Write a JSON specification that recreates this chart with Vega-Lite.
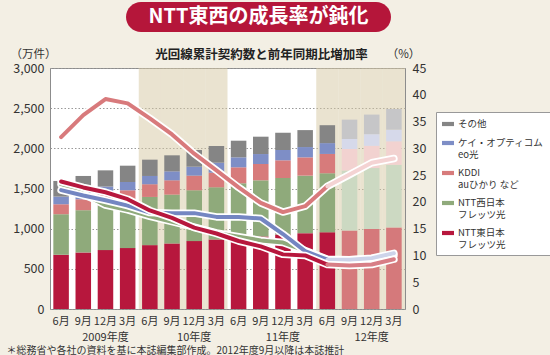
{
  "$schema": "https://vega.github.io/schema/vega-lite/v6.json",
  "background": "#F3EFE4",
  "padding": {"left": 6, "right": 2, "top": 2, "bottom": 1},
  "config": {
    "font": "Noto Sans CJK JP",
    "view": {"stroke": null},
    "axis": {"labelFont": "Noto Sans CJK JP", "titleFont": "Noto Sans CJK JP", "labelColor": "#333", "titleColor": "#333"},
    "legend": {"labelFont": "Noto Sans CJK JP"}
  },
  "datasets": {
    "bars": [
      {"時期": "2009-06", "年度": "2009年度", "系列": "NTT東日本 フレッツ光", "順": 1, "件数": 675, "推計": false},
      {"時期": "2009-06", "年度": "2009年度", "系列": "NTT西日本 フレッツ光", "順": 2, "件数": 505, "推計": false},
      {"時期": "2009-06", "年度": "2009年度", "系列": "KDDI auひかり など", "順": 3, "件数": 124, "推計": false},
      {"時期": "2009-06", "年度": "2009年度", "系列": "ケイ・オプティコム eo光", "順": 4, "件数": 95, "推計": false},
      {"時期": "2009-06", "年度": "2009年度", "系列": "その他", "順": 5, "件数": 195, "推計": false},
      {"時期": "2009-09", "年度": "2009年度", "系列": "NTT東日本 フレッツ光", "順": 1, "件数": 704, "推計": false},
      {"時期": "2009-09", "年度": "2009年度", "系列": "NTT西日本 フレッツ光", "順": 2, "件数": 526, "推計": false},
      {"時期": "2009-09", "年度": "2009年度", "系列": "KDDI auひかり など", "順": 3, "件数": 136, "推計": false},
      {"時期": "2009-09", "年度": "2009年度", "系列": "ケイ・オプティコム eo光", "順": 4, "件数": 95, "推計": false},
      {"時期": "2009-09", "年度": "2009年度", "系列": "その他", "順": 5, "件数": 195, "推計": false},
      {"時期": "2009-12", "年度": "2009年度", "系列": "NTT東日本 フレッツ光", "順": 1, "件数": 733, "推計": false},
      {"時期": "2009-12", "年度": "2009年度", "系列": "NTT西日本 フレッツ光", "順": 2, "件数": 550, "推計": false},
      {"時期": "2009-12", "年度": "2009年度", "系列": "KDDI auひかり など", "順": 3, "件数": 145, "推計": false},
      {"時期": "2009-12", "年度": "2009年度", "系列": "ケイ・オプティコム eo光", "順": 4, "件数": 96, "推計": false},
      {"時期": "2009-12", "年度": "2009年度", "系列": "その他", "順": 5, "件数": 202, "推計": false},
      {"時期": "2010-03", "年度": "2009年度", "系列": "NTT東日本 フレッツ光", "順": 1, "件数": 758, "推計": false},
      {"時期": "2010-03", "年度": "2009年度", "系列": "NTT西日本 フレッツ光", "順": 2, "件数": 579, "推計": false},
      {"時期": "2010-03", "年度": "2009年度", "系列": "KDDI auひかり など", "順": 3, "件数": 141, "推計": false},
      {"時期": "2010-03", "年度": "2009年度", "系列": "ケイ・オプティコム eo光", "順": 4, "件数": 103, "推計": false},
      {"時期": "2010-03", "年度": "2009年度", "系列": "その他", "順": 5, "件数": 203, "推計": false},
      {"時期": "2010-06", "年度": "10年度", "系列": "NTT東日本 フレッツ光", "順": 1, "件数": 795, "推計": false},
      {"時期": "2010-06", "年度": "10年度", "系列": "NTT西日本 フレッツ光", "順": 2, "件数": 600, "推計": false},
      {"時期": "2010-06", "年度": "10年度", "系列": "KDDI auひかり など", "順": 3, "件数": 158, "推計": false},
      {"時期": "2010-06", "年度": "10年度", "系列": "ケイ・オプティコム eo光", "順": 4, "件数": 103, "推計": false},
      {"時期": "2010-06", "年度": "10年度", "系列": "その他", "順": 5, "件数": 203, "推計": false},
      {"時期": "2010-09", "年度": "10年度", "系列": "NTT東日本 フレッツ光", "順": 1, "件数": 816, "推計": false},
      {"時期": "2010-09", "年度": "10年度", "系列": "NTT西日本 フレッツ光", "順": 2, "件数": 608, "推計": false},
      {"時期": "2010-09", "年度": "10年度", "系列": "KDDI auひかり など", "順": 3, "件数": 178, "推計": false},
      {"時期": "2010-09", "年度": "10年度", "系列": "ケイ・オプティコム eo光", "順": 4, "件数": 112, "推計": false},
      {"時期": "2010-09", "年度": "10年度", "系列": "その他", "順": 5, "件数": 199, "推計": false},
      {"時期": "2010-12", "年度": "10年度", "系列": "NTT東日本 フレッツ光", "順": 1, "件数": 845, "推計": false},
      {"時期": "2010-12", "年度": "10年度", "系列": "NTT西日本 フレッツ光", "順": 2, "件数": 633, "推計": false},
      {"時期": "2010-12", "年度": "10年度", "系列": "KDDI auひかり など", "順": 3, "件数": 182, "推計": false},
      {"時期": "2010-12", "年度": "10年度", "系列": "ケイ・オプティコム eo光", "順": 4, "件数": 112, "推計": false},
      {"時期": "2010-12", "年度": "10年度", "系列": "その他", "順": 5, "件数": 207, "推計": false},
      {"時期": "2011-03", "年度": "10年度", "系列": "NTT東日本 フレッツ光", "順": 1, "件数": 865, "推計": false},
      {"時期": "2011-03", "年度": "10年度", "系列": "NTT西日本 フレッツ光", "順": 2, "件数": 650, "推計": false},
      {"時期": "2011-03", "年度": "10年度", "系列": "KDDI auひかり など", "順": 3, "件数": 182, "推計": false},
      {"時期": "2011-03", "年度": "10年度", "系列": "ケイ・オプティコム eo光", "順": 4, "件数": 125, "推計": false},
      {"時期": "2011-03", "年度": "10年度", "系列": "その他", "順": 5, "件数": 207, "推計": false},
      {"時期": "2011-06", "年度": "11年度", "系列": "NTT東日本 フレッツ光", "順": 1, "件数": 882, "推計": false},
      {"時期": "2011-06", "年度": "11年度", "系列": "NTT西日本 フレッツ光", "順": 2, "件数": 683, "推計": false},
      {"時期": "2011-06", "年度": "11年度", "系列": "KDDI auひかり など", "順": 3, "件数": 199, "推計": false},
      {"時期": "2011-06", "年度": "11年度", "系列": "ケイ・オプティコム eo光", "順": 4, "件数": 124, "推計": false},
      {"時期": "2011-06", "年度": "11年度", "系列": "その他", "順": 5, "件数": 207, "推計": false},
      {"時期": "2011-09", "年度": "11年度", "系列": "NTT東日本 フレッツ光", "順": 1, "件数": 903, "推計": false},
      {"時期": "2011-09", "年度": "11年度", "系列": "NTT西日本 フレッツ光", "順": 2, "件数": 699, "推計": false},
      {"時期": "2011-09", "年度": "11年度", "系列": "KDDI auひかり など", "順": 3, "件数": 203, "推計": false},
      {"時期": "2011-09", "年度": "11年度", "系列": "ケイ・オプティコム eo光", "順": 4, "件数": 124, "推計": false},
      {"時期": "2011-09", "年度": "11年度", "系列": "その他", "順": 5, "件数": 216, "推計": false},
      {"時期": "2011-12", "年度": "11年度", "系列": "NTT東日本 フレッツ光", "順": 1, "件数": 927, "推計": false},
      {"時期": "2011-12", "年度": "11年度", "系列": "NTT西日本 フレッツ光", "順": 2, "件数": 704, "推計": false},
      {"時期": "2011-12", "年度": "11年度", "系列": "KDDI auひかり など", "順": 3, "件数": 220, "推計": false},
      {"時期": "2011-12", "年度": "11年度", "系列": "ケイ・オプティコム eo光", "順": 4, "件数": 128, "推計": false},
      {"時期": "2011-12", "年度": "11年度", "系列": "その他", "順": 5, "件数": 215, "推計": false},
      {"時期": "2012-03", "年度": "11年度", "系列": "NTT東日本 フレッツ光", "順": 1, "件数": 944, "推計": false},
      {"時期": "2012-03", "年度": "11年度", "系列": "NTT西日本 フレッツ光", "順": 2, "件数": 716, "推計": false},
      {"時期": "2012-03", "年度": "11年度", "系列": "KDDI auひかり など", "順": 3, "件数": 228, "推計": false},
      {"時期": "2012-03", "年度": "11年度", "系列": "ケイ・オプティコム eo光", "順": 4, "件数": 128, "推計": false},
      {"時期": "2012-03", "年度": "11年度", "系列": "その他", "順": 5, "件数": 211, "推計": false},
      {"時期": "2012-06", "年度": "12年度", "系列": "NTT東日本 フレッツ光", "順": 1, "件数": 955, "推計": false},
      {"時期": "2012-06", "年度": "12年度", "系列": "NTT西日本 フレッツ光", "順": 2, "件数": 735, "推計": false},
      {"時期": "2012-06", "年度": "12年度", "系列": "KDDI auひかり など", "順": 3, "件数": 240, "推計": false},
      {"時期": "2012-06", "年度": "12年度", "系列": "ケイ・オプティコム eo光", "順": 4, "件数": 135, "推計": false},
      {"時期": "2012-06", "年度": "12年度", "系列": "その他", "順": 5, "件数": 223, "推計": false},
      {"時期": "2012-09", "年度": "12年度", "系列": "NTT東日本 フレッツ光", "順": 1, "件数": 976, "推計": true},
      {"時期": "2012-09", "年度": "12年度", "系列": "NTT西日本 フレッツ光", "順": 2, "件数": 748, "推計": true},
      {"時期": "2012-09", "年度": "12年度", "系列": "KDDI auひかり など", "順": 3, "件数": 268, "推計": true},
      {"時期": "2012-09", "年度": "12年度", "系列": "ケイ・オプティコム eo光", "順": 4, "件数": 124, "推計": true},
      {"時期": "2012-09", "年度": "12年度", "系列": "その他", "順": 5, "件数": 241, "推計": true},
      {"時期": "2012-12", "年度": "12年度", "系列": "NTT東日本 フレッツ光", "順": 1, "件数": 996, "推計": true},
      {"時期": "2012-12", "年度": "12年度", "系列": "NTT西日本 フレッツ光", "順": 2, "件数": 758, "推計": true},
      {"時期": "2012-12", "年度": "12年度", "系列": "KDDI auひかり など", "順": 3, "件数": 277, "推計": true},
      {"時期": "2012-12", "年度": "12年度", "系列": "ケイ・オプティコム eo光", "順": 4, "件数": 145, "推計": true},
      {"時期": "2012-12", "年度": "12年度", "系列": "その他", "順": 5, "件数": 244, "推計": true},
      {"時期": "2013-03", "年度": "12年度", "系列": "NTT東日本 フレッツ光", "順": 1, "件数": 1016, "推計": true},
      {"時期": "2013-03", "年度": "12年度", "系列": "NTT西日本 フレッツ光", "順": 2, "件数": 779, "推計": true},
      {"時期": "2013-03", "年度": "12年度", "系列": "KDDI auひかり など", "順": 3, "件数": 292, "推計": true},
      {"時期": "2013-03", "年度": "12年度", "系列": "ケイ・オプティコム eo光", "順": 4, "件数": 145, "推計": true},
      {"時期": "2013-03", "年度": "12年度", "系列": "その他", "順": 5, "件数": 258, "推計": true}
    ],
    "rates": [
      {"時期": "2009-06", "系列": "KDDI", "増加率": 32.1}, {"時期": "2009-09", "系列": "KDDI", "増加率": 36.2},
      {"時期": "2009-12", "系列": "KDDI", "増加率": 39.2}, {"時期": "2010-03", "系列": "KDDI", "増加率": 38.4},
      {"時期": "2010-06", "系列": "KDDI", "増加率": 35.6}, {"時期": "2010-09", "系列": "KDDI", "増加率": 32.6},
      {"時期": "2010-12", "系列": "KDDI", "増加率": 29.0}, {"時期": "2011-03", "系列": "KDDI", "増加率": 25.9},
      {"時期": "2011-06", "系列": "KDDI", "増加率": 22.7}, {"時期": "2011-09", "系列": "KDDI", "増加率": 19.8},
      {"時期": "2011-12", "系列": "KDDI", "増加率": 18.1}, {"時期": "2012-03", "系列": "KDDI", "増加率": 19.2},
      {"時期": "2012-06", "系列": "KDDI", "増加率": 22.9}, {"時期": "2012-09", "系列": "KDDI", "増加率": 25.1},
      {"時期": "2012-12", "系列": "KDDI", "増加率": 27.3}, {"時期": "2013-03", "系列": "KDDI", "増加率": 28.1},
      {"時期": "2009-06", "系列": "ケイ・オプティコム", "増加率": 22.2}, {"時期": "2009-09", "系列": "ケイ・オプティコム", "増加率": 21.2},
      {"時期": "2009-12", "系列": "ケイ・オプティコム", "増加率": 20.3}, {"時期": "2010-03", "系列": "ケイ・オプティコム", "増加率": 19.3},
      {"時期": "2010-06", "系列": "ケイ・オプティコム", "増加率": 18.0}, {"時期": "2010-09", "系列": "ケイ・オプティコム", "増加率": 17.9},
      {"時期": "2010-12", "系列": "ケイ・オプティコム", "増加率": 17.9}, {"時期": "2011-03", "系列": "ケイ・オプティコム", "増加率": 17.2},
      {"時期": "2011-06", "系列": "ケイ・オプティコム", "増加率": 17.2}, {"時期": "2011-09", "系列": "ケイ・オプティコム", "増加率": 16.9},
      {"時期": "2011-12", "系列": "ケイ・オプティコム", "増加率": 14.0}, {"時期": "2012-03", "系列": "ケイ・オプティコム", "増加率": 10.8},
      {"時期": "2012-06", "系列": "ケイ・オプティコム", "増加率": 9.2}, {"時期": "2012-09", "系列": "ケイ・オプティコム", "増加率": 9.2},
      {"時期": "2012-12", "系列": "ケイ・オプティコム", "増加率": 9.5}, {"時期": "2013-03", "系列": "ケイ・オプティコム", "増加率": 10.4},
      {"時期": "2009-06", "系列": "NTT西日本", "増加率": 23.3}, {"時期": "2009-09", "系列": "NTT西日本", "増加率": 21.5},
      {"時期": "2009-12", "系列": "NTT西日本", "増加率": 19.4}, {"時期": "2010-03", "系列": "NTT西日本", "増加率": 18.5},
      {"時期": "2010-06", "系列": "NTT西日本", "増加率": 17.3}, {"時期": "2010-09", "系列": "NTT西日本", "増加率": 16.3},
      {"時期": "2010-12", "系列": "NTT西日本", "増加率": 15.3}, {"時期": "2011-03", "系列": "NTT西日本", "増加率": 14.2},
      {"時期": "2011-06", "系列": "NTT西日本", "増加率": 13.5}, {"時期": "2011-09", "系列": "NTT西日本", "増加率": 12.8},
      {"時期": "2011-12", "系列": "NTT西日本", "増加率": 12.4}, {"時期": "2012-03", "系列": "NTT西日本", "増加率": 10.9},
      {"時期": "2012-06", "系列": "NTT西日本", "増加率": 9.3}, {"時期": "2012-09", "系列": "NTT西日本", "増加率": 9.2},
      {"時期": "2012-12", "系列": "NTT西日本", "増加率": 9.4}, {"時期": "2013-03", "系列": "NTT西日本", "増加率": 10.0},
      {"時期": "2009-06", "系列": "NTT東日本", "増加率": 23.8}, {"時期": "2009-09", "系列": "NTT東日本", "増加率": 22.7},
      {"時期": "2009-12", "系列": "NTT東日本", "増加率": 21.8}, {"時期": "2010-03", "系列": "NTT東日本", "増加率": 20.5},
      {"時期": "2010-06", "系列": "NTT東日本", "増加率": 18.4}, {"時期": "2010-09", "系列": "NTT東日本", "増加率": 17.0},
      {"時期": "2010-12", "系列": "NTT東日本", "増加率": 15.2}, {"時期": "2011-03", "系列": "NTT東日本", "増加率": 14.1},
      {"時期": "2011-06", "系列": "NTT東日本", "増加率": 12.7}, {"時期": "2011-09", "系列": "NTT東日本", "増加率": 11.7},
      {"時期": "2011-12", "系列": "NTT東日本", "増加率": 10.2}, {"時期": "2012-03", "系列": "NTT東日本", "増加率": 10.0},
      {"時期": "2012-06", "系列": "NTT東日本", "増加率": 8.3}, {"時期": "2012-09", "系列": "NTT東日本", "増加率": 8.1},
      {"時期": "2012-12", "系列": "NTT東日本", "増加率": 8.3}, {"時期": "2013-03", "系列": "NTT東日本", "増加率": 9.3}
    ]
  },
  "title": {
    "text": "＊総務省や各社の資料を基に本誌編集部作成。2012年度9月以降は本誌推計",
    "orient": "bottom", "anchor": "start", "fontSize": 10, "fontWeight": "normal", "color": "#333", "offset": 3, "dx": -3
  },
  "center": true,
  "spacing": 15,
  "vconcat": [
    {
      "width": 265, "height": 30,
      "title": {"text": " ", "orient": "right", "offset": 80, "fontSize": 4},
      "data": {"values": [{"見出し": "NTT東西の成長率が鈍化"}]},
      "layer": [
        {"mark": {"type": "rect", "color": "#B5163A", "cornerRadius": 15}, "encoding": {}},
        {"mark": {"type": "text", "color": "white", "fontSize": 20, "fontWeight": "bold"}, "encoding": {"text": {"field": "見出し"}}}
      ]
    },
    {
      "width": 355, "height": 241,
      "view": {"fill": "white", "stroke": "#8c8c8c"},
      "title": {"text": "光回線累計契約数と前年同期比増加率", "fontSize": 12.5, "fontWeight": "bold", "color": "#222", "frame": "group", "dx": 34, "offset": -13},
      "resolve": {"scale": {"y": "independent", "color": "independent"}, "axis": {"x": "independent"}},
      "layer": [
        {
          "data": {"name": "bars"},
          "transform": [{"filter": {"field": "年度", "oneOf": ["10年度", "12年度"]}}, {"filter": {"field": "系列", "equal": "その他"}}],
          "mark": {"type": "rect", "color": "#D5C7A1", "opacity": 0.5},
          "encoding": {
            "x": {"field": "時期", "type": "ordinal", "scale": {"paddingInner": 0, "paddingOuter": 0}, "axis": null},
            "y": {"datum": 0, "type": "quantitative", "scale": {"domain": [0, 3000]}, "axis": null},
            "y2": {"datum": 3000}
          }
        },
        {
          "data": {"name": "bars"},
          "transform": [{"filter": "!datum['推計']"}],
          "mark": {"type": "bar", "width": {"band": 0.7}},
          "encoding": {
            "x": {"field": "時期", "type": "ordinal", "scale": {"paddingInner": 0, "paddingOuter": 0},
              "axis": {"title": null, "orient": "bottom", "labelExpr": "toNumber(slice(datum.value, 5, 7)) + '月'", "labelAngle": 0, "ticks": false, "domain": false, "labelFontSize": 11, "labelPadding": 6}},
            "y": {"field": "件数", "type": "quantitative", "stack": "zero", "scale": {"domain": [0, 3000]},
              "axis": {"orient": "left", "title": "（万件）", "titleAngle": 0, "titleAlign": "left", "titleBaseline": "middle", "titleX": -40, "titleY": -14, "titleFontSize": 11.5, "titleFontWeight": "normal",
                "values": [0, 500, 1000, 1500, 2000, 2500, 3000], "labelExpr": "format(datum.value, ',')", "labelFontSize": 12.5, "ticks": false, "domain": false, "grid": true, "gridDash": [1.5, 2], "gridColor": "#999", "labelPadding": 6}},
            "color": {"field": "系列", "type": "nominal",
              "scale": {"domain": ["その他", "ケイ・オプティコム eo光", "KDDI auひかり など", "NTT西日本 フレッツ光", "NTT東日本 フレッツ光"], "range": ["#858585", "#7E8EC6", "#D77B7B", "#8FAA7B", "#B7173D"]},
              "legend": {"title": null, "orient": "none", "legendX": 386, "legendY": 44,
                "labelExpr": "indexof(datum.label, ' ') < 0 ? datum.label : [slice(datum.label, 0, indexof(datum.label, ' ')), slice(datum.label, indexof(datum.label, ' ') + 1)]",
                "symbolType": "M-1,-0.35H1V0.35H-1Z", "symbolSize": 144, "symbolStrokeWidth": 0, "labelFontSize": 9.5, "labelColor": "#333", "labelLimit": 0, "labelOffset": 4,
                "rowPadding": 8, "padding": 6, "fillColor": "white", "strokeColor": "#999"}},
            "order": {"field": "順", "type": "quantitative"}
          }
        },
        {
          "data": {"name": "bars"},
          "transform": [{"filter": "datum['推計']"}],
          "mark": {"type": "bar", "width": {"band": 0.7}},
          "encoding": {
            "x": {"field": "時期", "type": "ordinal", "scale": {"paddingInner": 0, "paddingOuter": 0}, "axis": null},
            "y": {"field": "件数", "type": "quantitative", "stack": "zero", "scale": {"domain": [0, 3000]}, "axis": null},
            "color": {"field": "系列", "type": "nominal",
              "scale": {"domain": ["その他", "ケイ・オプティコム eo光", "KDDI auひかり など", "NTT西日本 フレッツ光", "NTT東日本 フレッツ光"], "range": ["#C6C6C8", "#D6D9EA", "#F2D2D0", "#CCD9C2", "#D5797B"]},
              "legend": null},
            "order": {"field": "順", "type": "quantitative"}
          }
        },
        {
          "data": {"name": "rates"},
          "encoding": {
            "x": {"field": "時期", "type": "ordinal", "scale": {"paddingInner": 0, "paddingOuter": 0},
              "axis": {"title": null, "orient": "bottom", "values": ["2009-12", "2010-12", "2011-12", "2012-12"], "bandPosition": 0,
                "labelExpr": "datum.value == '2009-12' ? '2009年度' : slice(datum.value, 2, 4) + '年度'", "labelAngle": 0, "ticks": false, "domain": false, "labelFontSize": 11, "labelPadding": 22}},
            "y": {"field": "増加率", "type": "quantitative", "scale": {"domain": [0, 45]},
              "axis": {"orient": "right", "title": "（%）", "titleAngle": 0, "titleAlign": "center", "titleBaseline": "middle", "titleX": -2, "titleY": -14, "titleFontSize": 11.5, "titleFontWeight": "normal",
                "values": [0, 5, 10, 15, 20, 25, 30, 35, 40, 45], "labelFontSize": 12.5, "ticks": false, "domain": false, "grid": false, "labelPadding": 7}}
          },
          "layer": [
            {"transform": [{"filter": {"field": "系列", "equal": "KDDI"}}], "mark": {"type": "line", "color": "white", "strokeWidth": 7.5, "strokeCap": "round", "strokeJoin": "round"}, "encoding": {}},
            {"transform": [{"filter": {"field": "系列", "equal": "KDDI"}}, {"filter": "datum['時期'] <= '2012-06'"}], "mark": {"type": "line", "color": "#D87A7C", "strokeWidth": 4, "strokeCap": "round", "strokeJoin": "round"}, "encoding": {}},
            {"transform": [{"filter": {"field": "系列", "equal": "KDDI"}}, {"filter": "datum['時期'] >= '2012-06'"}], "mark": {"type": "line", "color": "#F4D3D3", "strokeWidth": 4, "strokeCap": "round", "strokeJoin": "round"}, "encoding": {}},
            {"transform": [{"filter": {"field": "系列", "equal": "NTT西日本"}}], "mark": {"type": "line", "color": "white", "strokeWidth": 7.5, "strokeCap": "round", "strokeJoin": "round"}, "encoding": {}},
            {"transform": [{"filter": {"field": "系列", "equal": "NTT西日本"}}, {"filter": "datum['時期'] <= '2012-06'"}], "mark": {"type": "line", "color": "#8FAA7B", "strokeWidth": 4, "strokeCap": "round", "strokeJoin": "round"}, "encoding": {}},
            {"transform": [{"filter": {"field": "系列", "equal": "NTT西日本"}}, {"filter": "datum['時期'] >= '2012-06'"}], "mark": {"type": "line", "color": "#C8D8BA", "strokeWidth": 4, "strokeCap": "round", "strokeJoin": "round"}, "encoding": {}},
            {"transform": [{"filter": {"field": "系列", "equal": "ケイ・オプティコム"}}], "mark": {"type": "line", "color": "white", "strokeWidth": 7.5, "strokeCap": "round", "strokeJoin": "round"}, "encoding": {}},
            {"transform": [{"filter": {"field": "系列", "equal": "ケイ・オプティコム"}}, {"filter": "datum['時期'] <= '2012-06'"}], "mark": {"type": "line", "color": "#7486C2", "strokeWidth": 4, "strokeCap": "round", "strokeJoin": "round"}, "encoding": {}},
            {"transform": [{"filter": {"field": "系列", "equal": "ケイ・オプティコム"}}, {"filter": "datum['時期'] >= '2012-06'"}], "mark": {"type": "line", "color": "#CDD4EA", "strokeWidth": 4, "strokeCap": "round", "strokeJoin": "round"}, "encoding": {}},
            {"transform": [{"filter": {"field": "系列", "equal": "NTT東日本"}}], "mark": {"type": "line", "color": "white", "strokeWidth": 7.5, "strokeCap": "round", "strokeJoin": "round"}, "encoding": {}},
            {"transform": [{"filter": {"field": "系列", "equal": "NTT東日本"}}, {"filter": "datum['時期'] <= '2012-06'"}], "mark": {"type": "line", "color": "#B7173D", "strokeWidth": 4, "strokeCap": "round", "strokeJoin": "round"}, "encoding": {}},
            {"transform": [{"filter": {"field": "系列", "equal": "NTT東日本"}}, {"filter": "datum['時期'] >= '2012-06'"}], "mark": {"type": "line", "color": "#D87E86", "strokeWidth": 4, "strokeCap": "round", "strokeJoin": "round"}, "encoding": {}}
          ]
        }
      ]
    }
  ]
}
